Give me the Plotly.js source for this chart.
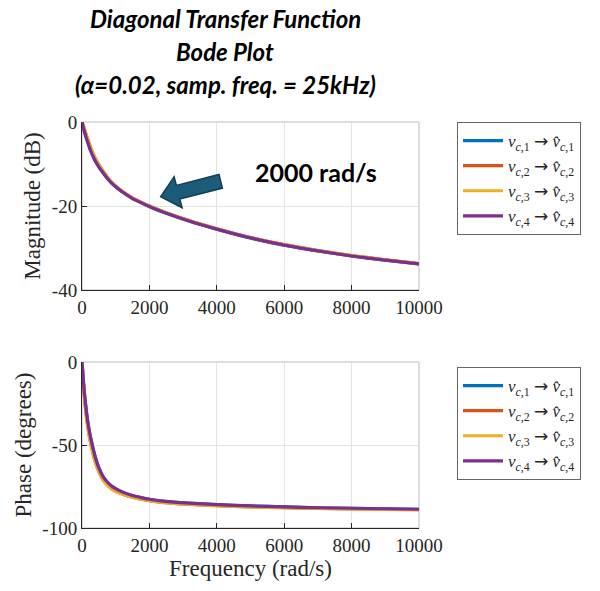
<!DOCTYPE html>
<html><head><meta charset="utf-8">
<script src="https://cdn.plot.ly/plotly-3.0.1.min.js"></script>
<style>html,body{margin:0;padding:0;background:#fff}#chart{width:600px;height:591px}</style>
</head><body><div id="chart"></div>
<script>
// ---- data ----
const freq = [0,60,120,179,260,377,500,625,750,873,1020,1171,1468,1750,2000,2460,3155,4000,5000,6000,7000,8000,9000,10000];
const magA = [0,-1.9,-3.6,-5.0,-6.9,-9.0,-10.7,-12.1,-13.4,-14.5,-15.55,-16.5,-18.05,-19.2,-20.1,-21.6,-23.5,-25.5,-27.6,-29.3,-30.7,-31.9,-32.9,-33.8];
const magB = [0,-1.3,-2.9,-4.3,-6.2,-8.4,-10.2,-11.7,-13.1,-14.3,-15.4,-16.4,-17.95,-19.1,-20.0,-21.5,-23.4,-25.4,-27.5,-29.2,-30.6,-31.8,-32.8,-33.7];
const phA = [0,-16,-28,-37,-46,-56,-63.8,-69,-72.3,-74.7,-76.6,-78.1,-80.3,-81.7,-82.7,-84.0,-85.0,-85.9,-86.7,-87.3,-87.8,-88.1,-88.4,-88.7];
const phB = [0,-18,-31,-40,-49,-59,-66,-71,-74,-76.3,-78,-79.3,-81.3,-82.6,-83.5,-84.7,-85.7,-86.6,-87.3,-87.8,-88.2,-88.5,-88.8,-89.0];
const arrowSpan = ' <span style="font-family:DejaVu Sans">→</span> ';
const seriesNames = [1,2,3,4].map(k => "<i>v</i><sub><i>c</i>,"+k+"</sub>"+arrowSpan+"<i>v̂</i><sub><i>c</i>,"+k+"</sub>");
const colors = ["#0072BD","#D95319","#EDB120","#7E2F8E"];
const magSeries = [magA, magB, magB, magA];
const phSeries = [phA, phB, phB, phA];
const xTicks = [0,2000,4000,6000,8000,10000];
const xTickText = ["0","2000","4000","6000","8000","10000"];
const magTicks = [-40,-20,0];
const magTickText = ["-40","-20","0"];
const phTicks = [-100,-50,0];
const phTickText = ["-100","-50","0"];
const titleLines = ["Diagonal Transfer Function","Bode Plot","(α=0.02, samp. freq. = 25kHz)"];

// ---- layout geometry ----
const L=82, R=419, T=122, B=528;
const W=600, H=591;
const px2x = p => (p-L)/(R-L);
const py2y = p => (B-p)/(B-T);
const serif = "Liberation Serif, DejaVu Serif, serif";
const sans = "Lato, Open Sans, sans-serif";

const traces=[];
const lineStyle = i => ({color:colors[i],width:3.2,shape:'spline',smoothing:0.6});
for(let i=0;i<4;i++){
  traces.push({x:freq,y:magSeries[i],type:'scatter',mode:'lines',name:seriesNames[i],
    line:lineStyle(i),xaxis:'x',yaxis:'y',legend:'legend'});
}
for(let i=0;i<4;i++){
  traces.push({x:freq,y:phSeries[i],type:'scatter',mode:'lines',name:seriesNames[i],
    line:lineStyle(i),xaxis:'x2',yaxis:'y2',legend:'legend2'});
}

const axBase = {showline:true,linecolor:'#262626',linewidth:1,ticks:'inside',ticklen:5,tickcolor:'#262626',
  showgrid:true,gridcolor:'#e3e3e3',zeroline:false,tickfont:{family:serif,size:19,color:'#262626'},mirror:false};
const titleFont = {family:serif,size:23,color:'#262626'};

// arrow polygon (pixel positions of the block-arrow outline)
const arrowPx = [[160.7,196.7],[174.1,176.7],[176.4,185.4],[219.0,174.5],[222.4,188.1],[179.8,199.0],[182.1,207.7]];
const arrowPath = arrowPx.map((p,i)=>(i?'L':'M')+px2x(p[0]).toFixed(4)+','+py2y(p[1]).toFixed(4)).join(' ')+' Z';

const topDom=[py2y(290),1], botDom=[0,py2y(362)];
const titleY = [18,51,84];

const legendBase = {xanchor:'left',yanchor:'top',xref:'paper',yref:'paper',bgcolor:'#fff',bordercolor:'#666',borderwidth:1,
    font:{family:serif,size:17,color:'#262626'},itemwidth:40,tracegroupgap:0};

const layout = {
  width:W,height:H,margin:{l:L,r:W-R,t:T,b:H-B},
  paper_bgcolor:'#fff',plot_bgcolor:'#fff',showlegend:true,
  xaxis:Object.assign({},axBase,{domain:[0,1],range:[0,10000],tickvals:xTicks,ticktext:xTickText,anchor:'y'}),
  yaxis:Object.assign({},axBase,{domain:topDom,range:[-40,0],tickvals:magTicks,ticktext:magTickText,anchor:'x',
    title:{text:'Magnitude (dB)',font:titleFont,standoff:4}}),
  xaxis2:Object.assign({},axBase,{domain:[0,1],range:[0,10000],tickvals:xTicks,ticktext:xTickText,anchor:'y2',
    title:{text:'Frequency (rad/s)',font:titleFont,standoff:4}}),
  yaxis2:Object.assign({},axBase,{domain:botDom,range:[-100,0],tickvals:phTicks,ticktext:phTickText,anchor:'x2',
    title:{text:'Phase (degrees)',font:titleFont,standoff:4}}),
  legend:Object.assign({},legendBase,{x:px2x(457),y:1}),
  legend2:Object.assign({},legendBase,{x:px2x(457),y:py2y(367)}),
  shapes:[
    {type:'rect',xref:'paper',yref:'paper',x0:0,x1:1,y0:topDom[0],y1:topDom[1],line:{color:'#bdbdbd',width:1},layer:'below'},
    {type:'rect',xref:'paper',yref:'paper',x0:0,x1:1,y0:botDom[0],y1:botDom[1],line:{color:'#bdbdbd',width:1},layer:'below'},
    {type:'path',xref:'paper',yref:'paper',path:arrowPath,fillcolor:'#1d5b7a',line:{color:'#123f56',width:1.5},layer:'above'}
  ],
  annotations:[
    {text:'<b>2000 rad/s</b>',xref:'paper',yref:'paper',x:px2x(316),y:py2y(172),xanchor:'center',yanchor:'middle',showarrow:false,
     font:{family:sans,size:25,color:'#000'}}
  ].concat(titleLines.map((t,i)=>({text:'<b><i>'+t+'</i></b>',xref:'paper',yref:'paper',x:px2x(225),y:py2y(titleY[i]),
     xanchor:'center',yanchor:'middle',showarrow:false,font:{family:sans,size:24,color:'#000'}})))
};
Plotly.newPlot('chart',traces,layout,{displayModeBar:false,staticPlot:true});
</script></body></html>
